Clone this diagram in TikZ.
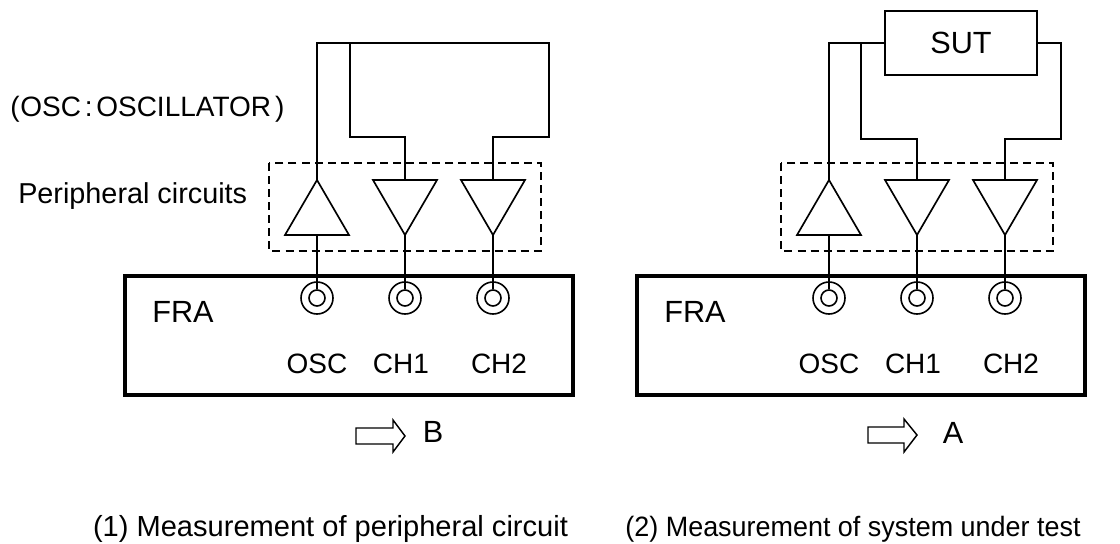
\documentclass[tikz,border=0pt]{standalone}
\usepackage{graphicx}
\usepackage{fontspec}
\setmainfont{Liberation Sans}
\tikzset{
  x=0.75pt,y=-0.75pt,
  wire/.style={line width=1.25pt,line join=miter},
  amp/.style={line width=1.25pt,line join=miter},
  dashbox/.style={line width=1.1pt,dash pattern=on 6pt off 3.8pt},
  frabox/.style={line width=2.7pt},
  txt/.style={inner sep=0pt,anchor=base,font=\fontsize{21}{24}\selectfont,text=black},
  bigtxt/.style={txt,font=\fontsize{23}{26}\selectfont},
  jack/.style={circle,draw,line width=1.2pt,inner sep=0pt,minimum size=#1},
  fatarrow/.style={line width=1.1pt,line join=miter}
}
\newcommand{\panel}[2]{%
\begin{scope}[xshift=#1*0.75pt]
  \draw[dashbox] (269,163) rectangle (541,251);
  \coordinate (j1#2) at (317,298);
  \coordinate (j2#2) at (405,298);
  \coordinate (j3#2) at (493,298);
  \coordinate (a1#2) at (317,180);
  \coordinate (a2#2) at (405,180);
  \coordinate (a3#2) at (493,180);
  \draw[amp] (285,235) -- (317,180) -- (349,235) -- cycle;
  \draw[amp] (373,180) -- (437,180) -- (405,235) -- cycle;
  \draw[amp] (461,180) -- (525,180) -- (493,235) -- cycle;
  \draw[frabox] (125,276) rectangle (573,395);
  \node[jack=12pt] (i1#2) at (j1#2) {};
  \node[jack=12pt] (i2#2) at (j2#2) {};
  \node[jack=12pt] (i3#2) at (j3#2) {};
  \node[jack=24pt] (o1#2) at (j1#2) {};
  \node[jack=24pt] (o2#2) at (j2#2) {};
  \node[jack=24pt] (o3#2) at (j3#2) {};
  \draw[wire] (317,235) -- (i1#2.north);
  \draw[wire] (405,235) -- (i2#2.north);
  \draw[wire] (493,235) -- (i3#2.north);
  \node[bigtxt] (fra#2) at (183,322) {FRA};
  \node[txt] (osc#2) at (317,373) {OSC};
  \node[txt] (chA#2) at (401,373) {CH1};
  \node[txt] (chB#2) at (499,373) {CH2};
\end{scope}}
\begin{document}
\begin{tikzpicture}
\useasboundingbox (0,0) rectangle (1120,543);
\panel{0}{l}
\panel{512}{r}
% left wiring
\draw[wire] (a1l) -- (317,43) -- (549,43) -- (549,137) -- (493,137) -- (a3l);
\draw[wire] (350,43) -- (350,137) -- (405,137) -- (a2l);
% right wiring
\node[draw,line width=1.25pt,minimum width=114pt,minimum height=48pt,inner sep=0pt,font=\fontsize{23}{26}\selectfont] (sut) at (961,43) {\raisebox{-1.2pt}{SUT}};
\draw[wire] (sut.west) -- (829,43) -- (a1r);
\draw[wire] (861,43) -- (861,139) -- (917,139) -- (a2r);
\draw[wire] (sut.east) -- (1061,43) -- (1061,139) -- (1005,139) -- (a3r);
% labels
\node[txt,anchor=base west] (note) at (10,116) {(\kern0.6pt OSC\kern2.8pt:\kern2.8pt OSCILLATOR\kern3pt)};
\node[txt,anchor=base west,font=\fontsize{21.6}{24}\selectfont] (per) at (18,203) {Peripheral circuits};
% arrows
\draw[fatarrow] (356,428) -- (393,428) -- (393,420) -- (405,436) -- (393,452) -- (393,444) -- (356,444) -- cycle;
\node[bigtxt] (b) at (433,442) {B};
\draw[fatarrow] (868,427) -- (904,427) -- (904,419) -- (917,435) -- (904,452) -- (904,443) -- (868,443) -- cycle;
\node[bigtxt] (a) at (953,443) {A};
% captions
\node[txt,font=\fontsize{21.8}{24}\selectfont] (c1) at (330.5,536) {(1) Measurement of peripheral circuit};
\node[txt] (c2) at (853,536) {\scalebox{0.962}[1]{(2) Measurement of system under test}};
\end{tikzpicture}
\end{document}
